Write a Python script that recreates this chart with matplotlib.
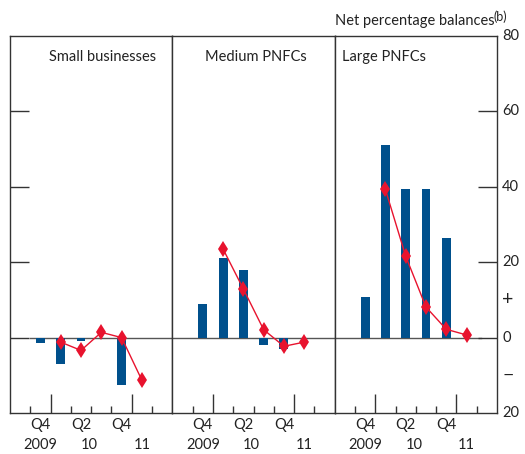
import matplotlib
matplotlib.use("Agg")
from matplotlib import pyplot as plt

plt.rcParams['font.family'] = ['Lato', 'DejaVu Sans']

# quarters Q3 2009 .. Q2 2011, positions 0..7 within each panel
panels = ["Small businesses", "Medium PNFCs", "Large PNFCs"]

# bars: Q4 2009 .. Q4 2010
bar_pos = [1, 2, 3, 4, 5]
small_bars = [-1.3, -6.9, -0.8, 0.0, -12.7]
medium_bars = [9.0, 21.0, 17.8, -2.0, -3.0]
large_bars = [10.7, 51.0, 39.5, 39.5, 26.3]

# expectations line: Q1 2010 .. Q1 2011
line_pos = [2, 3, 4, 5, 6]
small_line = [-1.2, -3.4, 1.4, 0.0, -11.3]
medium_line = [23.5, 12.9, 2.1, -2.3, -1.2]
large_line = [39.3, 21.6, 8.1, 2.2, 0.7]

yticks = [-20, 0, 20, 40, 60, 80]
ylabels = ["20", "0", "20", "40", "60", "80"]

bar_color = "#00508C"
line_color = "#E8132E"
edge = "#333333"
txt = "#222222"
fs = 10.5

fig = plt.figure(figsize=(5.25, 4.54), dpi=100)
left, right, bottom, top = 10/525, 497/525, 41/454, 418/454
w = (right - left) / 3
axes = [fig.add_axes([left + i*w, bottom, w, top - bottom]) for i in range(3)]

bars = [small_bars, medium_bars, large_bars]
lines = [small_line, medium_line, large_line]
title_x = [49, 205, 342]

for i, ax in enumerate(axes):
    ax.set_xlim(0, 8)
    ax.set_ylim(-20, 80)
    xmin = 1/8 if i == 0 else 0
    xmax = 7.2/8 if i == 2 else 1
    ax.axhline(0, xmin=xmin, xmax=xmax, color="#555555", lw=1, zorder=1)
    ax.bar([p + 0.5 for p in bar_pos], bars[i], width=0.44, color=bar_color, zorder=2)
    ax.plot([p + 0.5 for p in line_pos], lines[i], color=line_color, lw=1,
            marker="d", markersize=8, markeredgewidth=0, zorder=3)
    for s in ax.spines.values():
        s.set_color(edge)
        s.set_linewidth(1)
    # bottom ticks at quarter boundaries, taller at year ends
    ax.set_xticks([1, 3, 4, 5, 7])
    ax.set_xticks([2, 6], minor=True)
    ax.tick_params(axis="x", which="major", direction="in", length=5, width=1,
                   color=edge, labelbottom=False)
    ax.tick_params(axis="x", which="minor", direction="in", length=14, width=1,
                   color=edge, labelbottom=False)
    ax.set_yticks([0, 20, 40, 60])
    ax.tick_params(axis="y", direction="in", length=14, width=1, color=edge,
                   left=(i == 0), right=(i == 2), labelleft=False, labelright=False)
    for x, t in zip([1.5, 3.5, 5.5], ["Q4", "Q2", "Q4"]):
        ax.text(x, -23.3, t, ha="center", va="center", fontsize=fs, color=txt)
    for x, t in zip([1.5, 3.9, 6.5], ["2009", "10", "11"]):
        ax.text(x, -28.6, t, ha="center", va="center", fontsize=fs, color=txt)
    fig.text(title_x[i]/525, 1 - 57/454, panels[i], ha="left", va="center",
             fontsize=fs, color=txt)

ax = axes[2]
for y, t in zip(yticks, ylabels):
    ax.text(8.25, y, t, ha="left", va="center", fontsize=fs, color=txt)
ax.text(8.25, 10, "+", ha="left", va="center", fontsize=14, color=txt)
ax.text(8.25, -10, "\u2212", ha="left", va="center", fontsize=14, color=txt)

fig.text(495/525, 1 - 21/454, "Net percentage balances", ha="right",
         va="center", fontsize=fs, color=txt)
fig.text(494/525, 1 - 17/454, "(b)", ha="left", va="center", fontsize=9, color=txt)

fig.savefig("out.png", dpi=100)
